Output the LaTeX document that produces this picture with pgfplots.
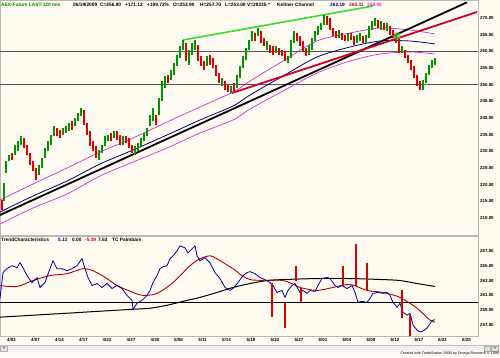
\documentclass[border=0pt]{standalone}
\usepackage{pgfplots}
\pgfplotsset{compat=1.18}
\usepackage{pgfplotstable}
\usepackage{fontspec}
\setmainfont{Liberation Sans}
\definecolor{bg}{HTML}{FFFBF0}
\definecolor{upg}{HTML}{009400}
\definecolor{dnr}{HTML}{DD0000}
\definecolor{tlgreen}{HTML}{33DD33}
\definecolor{tlred}{HTML}{CC0033}
\definecolor{navy}{HTML}{000080}
\definecolor{kpink}{HTML}{CC33CC}
\definecolor{hgreen}{HTML}{008000}
\definecolor{tcblue}{HTML}{0000A0}
\definecolor{tcred}{HTML}{B00000}
\definecolor{hline}{HTML}{555555}
\newcommand\hf{\fontsize{4.8}{5}\selectfont\bfseries}
\newcommand\tf{\fontsize{4.4}{5}\selectfont\bfseries}
\pgfplotsset{hlbar/.style={draw=none, mark=none, forget plot,
  error bars/.cd, y dir=plus, y explicit, error mark=none,
  error bar style={draw=#1, line width=1.2pt, solid}}}

\pgfplotstableread{
x lo hi
4 215 220.5
6 223.5 227
9 227 229
15 229 232
18 230 233
21 232 234.5
39 223 226
42 225 228
45 228 231
48 230 233
51 232 235
54 234.5 237.5
63 235 237
66 235.5 237.5
69 236 238.5
75 237.5 240
78 239 241.5
81 240.5 243
99 227.5 230.5
102 229.5 232
105 231.5 234.5
108 233 235
114 234 236
123 232 234.5
135 229 231.5
138 230 232.5
141 231.5 234
144 233 235.5
147 234.5 237
150 237.5 241
153 239 243
159 241 246
162 245 251
165 249 252.5
171 251.5 254.5
174 253 256.5
177 255.5 259
180 258 261.5
183 260.5 263.5
189 256 260.5
192 259 262.5
195 260.5 263.5
207 255.5 258.5
222 249.5 252
231 247.5 249.5
237 249 253
240 252 255.5
243 255 258.5
246 257.5 261
249 260.5 263.5
252 263 266
258 264.5 267
267 260.5 263
276 259.5 261.5
288 256.5 258.5
291 258 263.5
294 262.5 266
309 259 262
312 260.5 264
315 263 266
318 265 267.5
321 266.5 268.5
324 268 271
339 264 266.5
348 263 265.5
357 262.5 265
360 263 265.5
366 262.5 265
369 264 267.5
372 266.5 269
375 267.5 270
381 266.5 269
387 266 268.5
402 259.5 261.5
423 248.5 251.5
426 250.5 253.5
429 253 256
432 255 257.5
435 256 258
}\upbars

\pgfplotstableread{
x lo hi
2 212.5 215.5
12 227.5 229.5
24 231 234
27 229 232
30 226 229.5
33 224 227
36 221.5 225
57 234.5 237
60 234 236.5
72 236.5 239
84 238 242.5
87 235 238.5
90 231.5 236
93 230 233
96 228 231.5
111 233 235.5
117 233.5 236
120 232 235
126 232.5 234.5
129 231 234
132 229.5 232
156 238 241
168 250.5 253
186 257 262.5
198 257 262
201 255.5 258.5
204 254.5 257
210 256 259
213 255 258
216 252.5 256
219 250.5 253.5
225 248.5 251
228 247.8 250
234 248 250.5
255 263 265.5
261 262.5 266
264 261.5 264
270 259.5 262
273 259 261.5
279 259 261
282 258.5 260.5
285 257 260
297 263 265.5
300 261.5 264.5
303 260 263
306 258.5 261
327 268 270.5
330 266.5 270
333 264.5 267
336 264 266
342 263.5 265.5
345 263 265
351 263.5 265.5
354 262 264.5
363 262.5 264.5
378 267 269.5
384 266.5 268.5
390 265 267.5
393 264 266.5
396 262.5 265
399 259.5 264
405 258 260.5
408 256.5 259
411 254.5 257.5
414 252 255.5
417 249.5 253
420 248.5 251
}\downbars

\pgfplotstableread{
x lo hi
272 258.07 262.73
285 256.6 259.93
296 263.0 265.0
301 260.07 261.93
343 262.33 265.0
356 262.33 267.93
367 261.67 265.4
402 257.93 261.67
410 255.53 258.33
}\spikes

\begin{document}
\begin{tikzpicture}[x=1pt,y=1pt]
\useasboundingbox (0,0) rectangle (500,357);
\fill[bg] (0,0) rectangle (500,357);

% ---------- price panel ----------
\begin{axis}[
  at={(0pt,122pt)}, anchor=south west, scale only axis,
  width=478pt, height=235pt,
  xmin=0, xmax=478, ymin=204.9, ymax=275.4,
  xtick=\empty,
  ytick={210,215,220,225,230,235,240,245,250,255,260,265,270},
  yticklabels={210.00,215.00,220.00,225.00,230.00,235.00,240.00,245.00,250.00,255.00,260.00,265.00,270.00},
  yticklabel pos=right,
  yticklabel style={font=\tf, anchor=west, inner sep=0pt, xshift=2pt},
  tick style={draw=none},
  axis line style={draw=gray!55},
  axis background/.style={fill=bg},
]
\addplot[hline, line width=0.6pt] coordinates {(0,260) (478,260)};
\addplot[hline, line width=0.6pt] coordinates {(0,250) (478,250)};
% Keltner bands
\addplot[kpink, line width=0.7pt, smooth] coordinates {(0,215.4) (33,220.2) (67,225.0) (100,229.8) (133,234.0) (167,238.8) (200,243.3) (233,247.8) (250,251.1) (283,257.1) (317,263.1) (350,265.5) (380,267.0) (410,266.4) (435,265.2)};
\addplot[kpink, line width=0.7pt, smooth] coordinates {(0,208.2) (33,213.0) (67,217.2) (100,222.6) (133,226.8) (167,231.0) (200,235.5) (233,239.4) (250,242.7) (283,248.1) (317,253.5) (350,257.1) (380,259.2) (410,259.8) (435,259.2)};
\addplot[navy, line width=0.8pt, smooth] coordinates {(0,211.8) (33,216.6) (67,221.1) (100,226.2) (133,230.4) (167,234.9) (200,239.4) (233,243.6) (250,246.9) (283,252.6) (317,258.3) (350,261.3) (380,263.1) (410,263.1) (435,262.2)};
% trend lines
\addplot[black, line width=1.8pt] coordinates {(0,210.9) (467,274.7)};
\addplot[tlred, line width=1.8pt] coordinates {(232,247.5) (477,271.8)};
\addplot[tlgreen, line width=1.6pt] coordinates {(183,263.4) (373,273.6)};
% price bars
\addplot[hlbar=upg] table[x=x, y=lo, y error plus expr=\thisrow{hi}-\thisrow{lo}] {\upbars};
\addplot[hlbar=dnr] table[x=x, y=lo, y error plus expr=\thisrow{hi}-\thisrow{lo}] {\downbars};
\addplot[only marks, mark=*, mark size=3.5pt, mark options={fill=tlgreen, draw=tlgreen, opacity=0.6}] coordinates {(397,264.6)};
\end{axis}

% ---------- indicator panel ----------
\begin{axis}[
  at={(0pt,21pt)}, anchor=south west, scale only axis,
  width=478pt, height=100pt,
  xmin=0, xmax=478, ymin=255.53, ymax=269.0,
  xtick={11.5,35.5,59.5,83.5,107,131,155,178.5,202.5,226.5,251,275,299,323,347,371,395,419,442.5,466.5},
  xticklabels={4/02,4/07,4/14,4/17,4/22,4/27,4/30,5/06,5/11,5/14,5/19,5/22,5/27,6/01,6/04,6/09,6/12,6/17,6/22,6/25},
  xticklabel style={font=\tf, inner sep=0pt, yshift=-2pt},
  ytick={257,259,261,263,265,267},
  yticklabels={257.00,259.00,261.00,263.00,265.00,267.00},
  yticklabel pos=right,
  yticklabel style={font=\tf, anchor=west, inner sep=0pt, xshift=2pt},
  tick style={draw=none},
  axis line style={draw=gray!55},
  axis background/.style={fill=bg},
]
\addplot[black, line width=0.7pt] coordinates {(0,260) (478,260)};
\addplot[black, line width=1pt, smooth] coordinates {(0,258.07) (33,258.33) (67,258.6) (100,258.87) (133,259.13) (150,259.27) (167,259.67) (183,260.2) (200,260.73) (217,261.4) (233,262.07) (250,262.6) (267,263.0) (283,263.13) (317,263.27) (350,263.27) (383,263.13) (400,263.0) (417,262.6) (435,262.2)};
\addplot[tcred, line width=0.9pt, smooth] coordinates {(0,262.33) (17,262.2) (33,263.0) (50,263.67) (67,263.93) (83,264.6) (93,264.33) (107,263.27) (117,262.33) (133,261.4) (143,261.0) (157,261.27) (173,262.73) (190,265.0) (200,265.93) (210,266.33) (217,265.93) (233,264.6) (250,263.13) (283,263.0) (300,262.07) (317,261.67) (333,262.07) (350,262.47) (367,261.67) (383,261.4) (400,260.73) (417,259.27) (430,257.67) (435,257.4)};
\addplot[tcblue, line width=0.8pt] coordinates {(0,260.6) (3,264.07) (7,264.6) (12,265.0) (17,264.73) (20,265.4) (23,264.73) (27,263.67) (32,262.73) (37,263.4) (40,262.07) (45,262.73) (50,264.6) (53,265.67) (57,264.6) (62,264.6) (67,264.33) (72,264.6) (77,265.0) (82,265.93) (85,264.6) (88,263.4) (92,262.33) (97,262.6) (102,262.07) (107,262.6) (112,261.93) (117,262.33) (122,261.93) (127,261.0) (132,260.33) (133,259.13) (137,259.93) (142,260.33) (147,261.0) (150,261.67) (153,262.73) (157,263.67) (160,264.6) (163,264.87) (167,265.0) (170,265.93) (173,266.33) (177,267.0) (180,267.67) (185,267.4) (188,266.73) (192,267.27) (195,267.67) (197,266.33) (200,265.67) (205,266.07) (210,265.4) (215,264.07) (220,263.27) (225,262.07) (230,261.67) (233,261.93) (238,262.73) (243,263.67) (247,264.07) (250,264.2) (255,263.93) (260,263.4) (265,263.13) (270,262.73) (273,262.33) (277,261.4) (282,261.67) (285,260.73) (288,261.67) (292,262.33) (295,262.6) (300,261.4) (303,261.67) (307,261.27) (310,261.67) (315,261.53) (318,262.33) (322,263.27) (327,263.4) (330,263.27) (335,262.33) (338,262.07) (342,262.33) (347,261.93) (352,262.33) (355,261.4) (358,260.07) (362,260.2) (367,260.07) (370,260.6) (373,261.27) (378,261.4) (383,261.27) (387,261.4) (390,261.0) (393,260.07) (397,259.4) (400,259.93) (403,258.73) (407,258.33) (410,258.6) (413,257.0) (417,256.33) (420,256.07) (423,256.2) (427,256.6) (432,257.6) (435,257.73)};
\addplot[draw=none, mark=none, forget plot, error bars/.cd, y dir=plus, y explicit, error mark=none,
  error bar style={draw=dnr, line width=1.2pt, solid}]
  table[x=x, y=lo, y error plus expr=\thisrow{hi}-\thisrow{lo}] {\spikes};
\end{axis}

% ---------- header texts ----------
\begin{scope}[every node/.style={anchor=west, inner sep=0pt, font=\hf}]
\node[text=hgreen] at (1,352) {AEX-Future LAST-120 min};
\node at (73,352) {06/19/2009};
\node at (100,352) {C=256.80};
\node at (125,352) {+171.12};
\node at (147,352) {+199.72\%};
\node at (173,352) {O=253.90};
\node at (200,352) {H=257.70};
\node at (225,352) {L=253.00};
\node at (247,352) {V=28235};
\node at (268,352) {*};
\node at (277,352) {Keltner Channel};
\node[text=navy] at (330,352) {262.19};
\node[text=purple] at (349,352) {265.31};
\node[text=kpink] at (367,352) {259.05};
\node at (1,117.5) {TrendCharacteristics};
\node[text=navy] at (58,117.5) {5.12};
\node at (72,117.5) {0.00};
\node[text=dnr] at (85,117.5) {-5.39};
\node at (98,117.5) {7.52};
\node at (112,117.5) {TC Palmbars};
\end{scope}

% ---------- bottom strip ----------
\draw[gray!50] (0,11.5) -- (500,11.5);
\fill[gray!12] (0,6) rectangle (500,11);
\draw[gray!60, fill=gray!25] (0.5,6) rectangle (7.5,11);
\node[inner sep=0pt, font=\fontsize{4}{4}\selectfont] at (4,8.5) {<};
\draw[gray!60, fill=gray!25] (484,6) rectangle (490.5,11);
\draw[gray!60, fill=gray!25] (491.5,6) rectangle (498,11);
\node[inner sep=0pt, font=\fontsize{4}{4}\selectfont] at (494.75,8.5) {>};
\node[anchor=east, inner sep=0pt, font=\fontsize{3.6}{4}\selectfont] at (499,3) {Created with TradeStation 2000i by Omega Research © 1999};
\end{tikzpicture}
\end{document}
